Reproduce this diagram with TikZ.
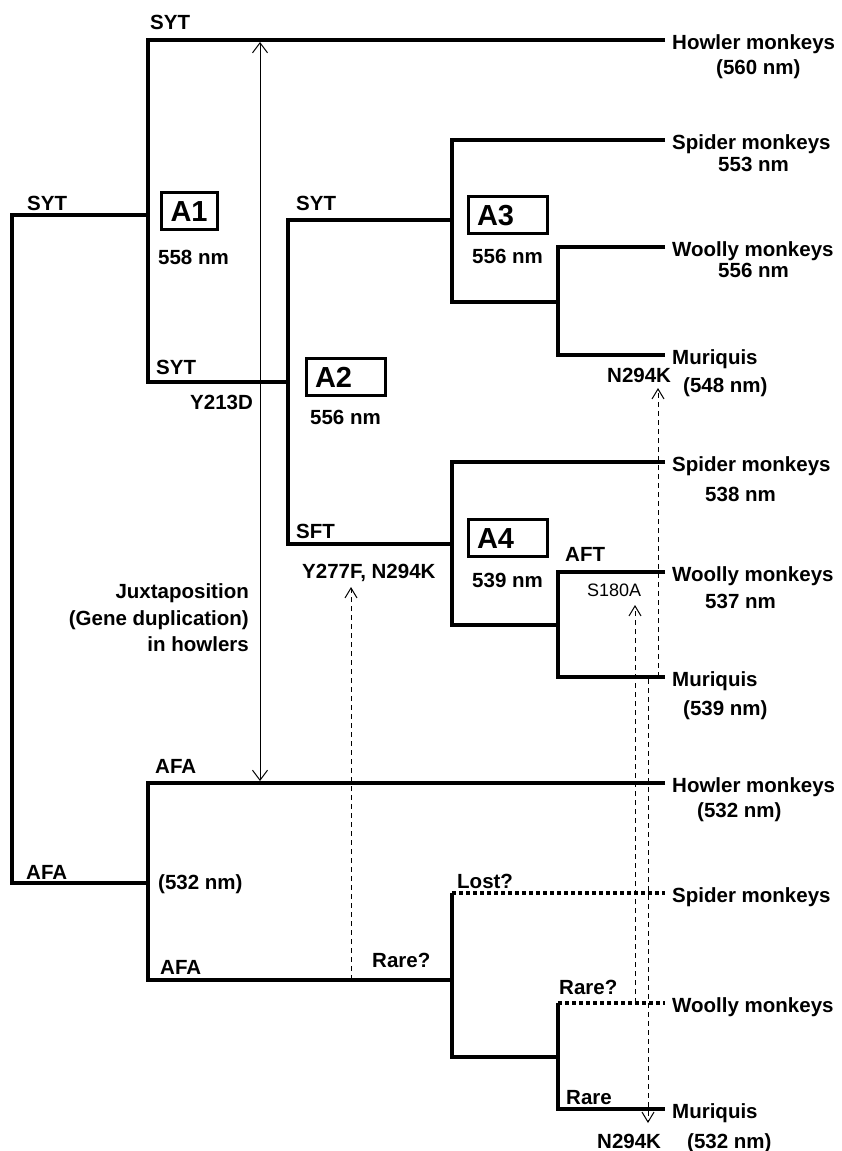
\documentclass[tikz,border=0pt]{standalone}
\usepackage{fontspec}
\setmainfont{Liberation Sans}
\usetikzlibrary{arrows.meta,positioning}

\tikzset{
  branch/.style={line width=4.5pt,line join=miter},
  lost/.style={line width=3.5pt,dash pattern=on 3.5pt off 3.5pt},
  lbl/.style={anchor=west,inner sep=0pt,text height=14pt,text depth=0pt,
    font=\fontsize{20.5}{24}\selectfont\bfseries},
  taxon/.style={lbl,xshift=7pt,yshift=-2pt},
  anc/.style={draw,line width=3pt,anchor=west,inner xsep=9pt,inner ysep=0pt,
    minimum height=37pt,text width=#1,align=left,text height=21pt,text depth=0pt,
    font=\fontsize{29}{32}\selectfont\bfseries},
  anc/.default=61pt,
  mut/.style={line width=1pt,dash pattern=on 5pt off 4pt,
    -{Straight Barb[length=10pt,width=12pt]}},
}

\begin{document}
\begin{tikzpicture}[x=1pt,y=-1pt]
    \useasboundingbox (0,0) rectangle (841,1151);
    % junctions
    \coordinate (root) at (12,215);
    \coordinate (n1) at (148,215);
    \coordinate (n2) at (288,382);
    \coordinate (n3) at (452,220);
    \coordinate (n5) at (558,302);
    \coordinate (n4) at (452,544);
    \coordinate (n6) at (558,625);
    \coordinate (nafa) at (148,883);
    \coordinate (nb1) at (452,980);
    \coordinate (nb2) at (558,1057);
    % tips
    \foreach \t/\y/\name in {HowA/40/Howler monkeys,SpiA/140/Spider monkeys,
        WooA/247/Woolly monkeys,MurA/355/Muriquis,SpiB/462/Spider monkeys,
        WooB/572/Woolly monkeys,MurB/677/Muriquis,HowC/783/Howler monkeys,
        SpiC/893/Spider monkeys,WooC/1003/Woolly monkeys,MurC/1109/Muriquis} {
        \coordinate (t\t) at (665,\y);
        \node[taxon] (l\t) at (t\t) {\name};
    }
    \foreach \x/\y/\nm [count=\i] in {716/67/(560 nm),718/164/553 nm,718/270/556 nm,
        683/385/(548 nm),705/494/538 nm,705/601/537 nm,683/708/(539 nm),
        697/810/(532 nm),687/1141/(532 nm)}
        \node[lbl] (nm\i) at (\x,\y) {\nm};

    % tree
    \draw[branch] (n1) -- (root) |- (nafa);
    \draw[branch] (tHowA) -| (n1) |- (n2);
    \draw[branch] (n3) -| (n2) |- (n4);
    \draw[branch] (tSpiA) -| (n3) |- (n5);
    \draw[branch] (tWooA) -| (n5) |- (tMurA);
    \draw[branch] (tSpiB) -| (n4) |- (n6);
    \draw[branch] (tWooB) -| (n6) |- (tMurB);
    \draw[branch] (tHowC) -| (nafa) |- (nb1);
    \draw[branch] (nb1 |- tSpiC) -- (nb1) |- (nb2);
    \draw[lost] (nb1 |- tSpiC) -- (tSpiC);
    \draw[branch] (nb2 |- tWooC) -- (nb2) |- (tMurC);
    \draw[lost] (nb2 |- tWooC) -- (tWooC);

    % ancestors
    \node[anc=38pt] (A1) at (160,211) {A1};
    \node[anc] (A2) at (304.5,377) {A2};
    \node[anc] (A3) at (466.5,215) {A3};
    \node[anc] (A4) at (466.5,538) {A4};
    \foreach \x/\y/\nm [count=\i] in {158/257/558 nm,310/417/556 nm,472/256/556 nm,
        472/580/539 nm,158/882/(532 nm)}
        \node[lbl] (anm\i) at (\x,\y) {\nm};

    % residues and substitutions
    \foreach \x/\y/\txt [count=\i] in {150/22/SYT,27/203/SYT,296/203/SYT,156/367/SYT,
        296/531/SFT,565/554/AFT,155/766/AFA,26/872/AFA,160/967/AFA,
        190/402/Y213D,302/571/{Y277F, N294K},607/375/N294K,597/1141/N294K,
        457/881/Lost?,372/960/Rare?,559/987/Rare?,566/1097/Rare}
        \node[lbl] (res\i) at (\x,\y) {\txt};
    \node[lbl,text height=13pt,font=\fontsize{18}{22}\selectfont] (sub) at (587,590) {S180A};

    % duplication
    \coordinate (dupA) at (260,42);
    \coordinate (dupB) at (260,781);
    \draw[line width=1pt,{Straight Barb[length=10pt,width=15pt]}-{Straight Barb[length=10pt,width=15pt]}]
        (dupA) -- (dupB);
    \node[anchor=east,align=right,inner sep=0pt,font=\fontsize{20.5}{26.5}\selectfont\bfseries]
        (dup) at (249,618) {Juxtaposition\\(Gene duplication)\\in howlers};

    % dashed arrows
    \foreach \x/\ya/\yb [count=\i] in {351/980/587,635/1003/605,658/677/388,648/679/1123} {
        \coordinate (mfrom\i) at (\x,\ya);
        \coordinate (mto\i) at (\x,\yb);
        \draw[mut] (mfrom\i) -- (mto\i);
    }
\end{tikzpicture}
\end{document}
